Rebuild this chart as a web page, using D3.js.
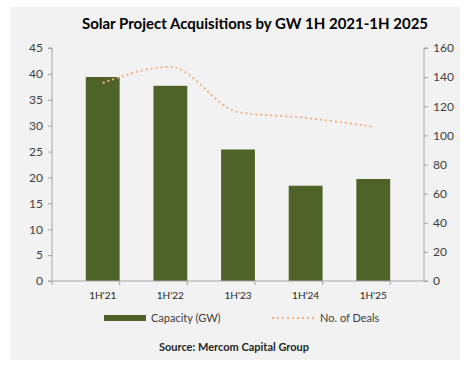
<!DOCTYPE html>
<html>
<head>
<meta charset="utf-8">
<script src="https://d3js.org/d3.v7.min.js"></script>
<style>
  body { margin: 0; background: #fff; }
  text { font-family: Lato, "Open Sans", sans-serif; }
</style>
</head>
<body>
<div id="chart"></div>
<script>
var periods = ["1H'21", "1H'22", "1H'23", "1H'24", "1H'25"];
var capacity = [39.4, 37.7, 25.4, 18.4, 19.7];
var deals = [136, 147, 116, 112, 106];
var leftTicks = [0, 5, 10, 15, 20, 25, 30, 35, 40, 45];
var rightTicks = [0, 20, 40, 60, 80, 100, 120, 140, 160];

var W = 468, H = 370;
var margin = {top: 48, right: 44, bottom: 89, left: 52};
var width = W - margin.left - margin.right,
    height = H - margin.top - margin.bottom;

var svg = d3.select("#chart").append("svg")
  .attr("width", W).attr("height", H);

svg.append("rect")
  .attr("x", 10).attr("y", 7).attr("width", 450).attr("height", 353)
  .attr("fill", "#f2f2f2");

svg.append("text")
  .attr("x", 255).attr("y", 29)
  .attr("text-anchor", "middle")
  .style("font-size", "15px").style("font-weight", "bold")
  .attr("fill", "#000")
  .text("Solar Project Acquisitions by GW 1H 2021-1H 2025");

var g = svg.append("g")
  .attr("transform", "translate(" + margin.left + "," + margin.top + ")");

var x = d3.scaleBand().domain(periods).range([0, width]).padding(0.5);
var y = d3.scaleLinear().domain([0, 45]).range([height, 0]);
var y2 = d3.scaleLinear().domain([0, 160]).range([height, 0]);

// bars
g.selectAll(".bar")
  .data(capacity).enter()
  .append("rect")
  .attr("x", (d, i) => x(periods[i]))
  .attr("y", d => y(d))
  .attr("width", x.bandwidth())
  .attr("height", d => height - y(d))
  .attr("fill", "#4f6228");

// deals line
var line = d3.line()
  .x((d, i) => x(periods[i]) + x.bandwidth() / 2)
  .y(d => y2(d))
  .curve(d3.curveMonotoneX);

g.append("path")
  .datum(deals)
  .attr("d", line)
  .attr("fill", "none")
  .attr("stroke", "#f4b183")
  .attr("stroke-width", 2)
  .attr("stroke-dasharray", "2,3");

var axisColor = "#a6a6a6";

// left axis
var yAxis = g.append("g")
  .call(d3.axisLeft(y).tickValues(leftTicks).tickSize(4).tickPadding(5));
// right axis
var yAxis2 = g.append("g")
  .attr("transform", "translate(" + width + ",0)")
  .call(d3.axisRight(y2).tickValues(rightTicks).tickSize(4).tickPadding(5));

[yAxis, yAxis2].forEach(function(a) {
  a.select(".domain").attr("stroke", axisColor).attr("d", a === yAxis
    ? "M-4," + height + "H0V0H-4" : "M4," + height + "H0V0H4");
  a.selectAll(".tick line").attr("stroke", axisColor);
  a.selectAll("text").style("font-size", "12px").attr("fill", "#404040");
});

// x axis
var xg = g.append("g").attr("transform", "translate(0," + height + ")");
xg.append("line")
  .attr("x1", 0).attr("x2", width)
  .attr("stroke", axisColor);
var step = x.step();
xg.selectAll(".xt")
  .data(d3.range(periods.length + 1)).enter()
  .append("line")
  .attr("x1", d => d * step).attr("x2", d => d * step)
  .attr("y1", 0).attr("y2", 4)
  .attr("stroke", axisColor);
xg.selectAll(".xl")
  .data(periods).enter()
  .append("text")
  .attr("x", d => x(d) + x.bandwidth() / 2)
  .attr("y", 18)
  .attr("text-anchor", "middle")
  .style("font-size", "10px")
  .attr("fill", "#262626")
  .text(d => d);

// legend
svg.append("rect")
  .attr("x", 104).attr("y", 315).attr("width", 42).attr("height", 6)
  .attr("fill", "#4f6228");
svg.append("text")
  .attr("x", 151).attr("y", 322)
  .style("font-size", "11px").attr("fill", "#404040")
  .text("Capacity (GW)");
svg.append("line")
  .attr("x1", 272).attr("x2", 315).attr("y1", 318).attr("y2", 318)
  .attr("stroke", "#f4b183").attr("stroke-width", 2)
  .attr("stroke-dasharray", "2,3");
svg.append("text")
  .attr("x", 320).attr("y", 322)
  .style("font-size", "11px").attr("fill", "#404040")
  .text("No. of Deals");

svg.append("text")
  .attr("x", 234).attr("y", 351)
  .attr("text-anchor", "middle")
  .style("font-size", "11px").style("font-weight", "bold")
  .attr("fill", "#262626")
  .text("Source: Mercom Capital Group");
</script>
</body>
</html>
